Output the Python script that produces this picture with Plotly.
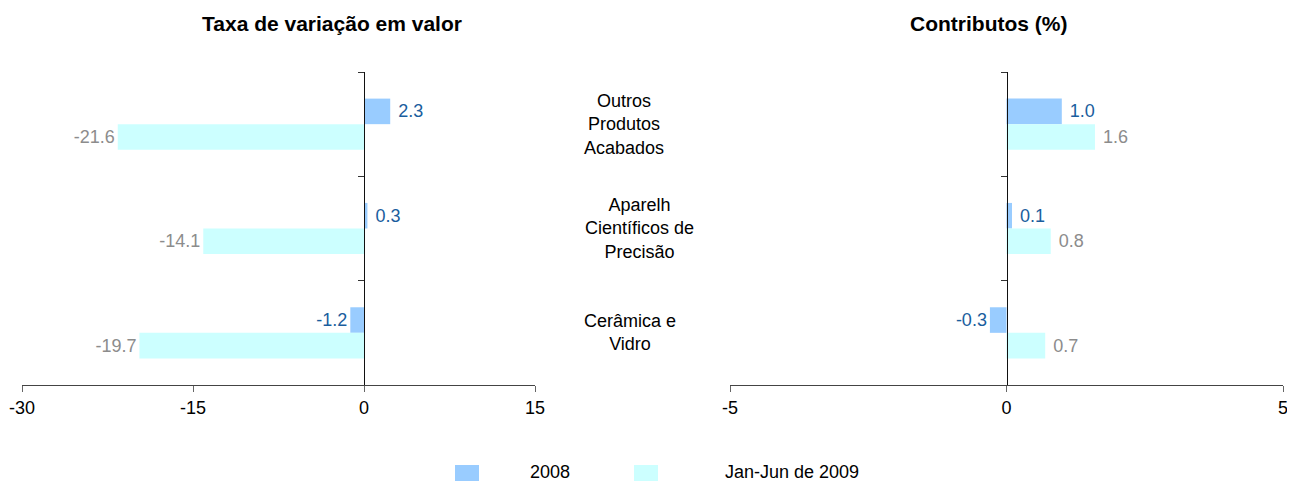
import plotly.graph_objects as go

# ---- data ----
categories = ["Outros Produtos Acabados", "Aparelh Científicos de Precisão", "Cerâmica e Vidro"]
category_labels = ["Outros<br>Produtos<br>Acabados", "Aparelh<br>Científicos de<br>Precisão", "Cerâmica e<br>Vidro"]
series_names = ["2008", "Jan-Jun de 2009"]
taxa_2008 = [2.3, 0.3, -1.2]
taxa_2009 = [-21.6, -14.1, -19.7]
contrib_2008 = [1.0, 0.1, -0.3]
contrib_2009 = [1.6, 0.8, 0.7]
left_ticks = [-30, -15, 0, 15]
right_ticks = [-5, 0, 5]
titles = ["Taxa de variação em valor", "Contributos (%)"]

# ---- style ----
OFF = 8                      # page body margin of the html page
W, H = 1295 - OFF, 481 - OFF  # figure size so the figure fills the window
FONT = "Liberation Sans, Arial, sans-serif"
C2008, C2009 = "#99CCFF", "#CCFFFF"
T2008, T2009 = "#1A5E9E", "#8C8C8C"
left_range, right_range = [-30, 15], [-5, 5]


def fx(p):  # window pixel x -> paper fraction
    return (p - OFF) / W


left_dom = [fx(22), fx(535)]
right_dom = [fx(730), fx(1283)]
label_x = [fx(624), fx(639), fx(630)]
M_T = 72 - OFF
M_B = H - (385 - OFF)
plot_h = H - M_T - M_B


def fy(p):  # window pixel y -> paper fraction
    return (H - M_B - (p - OFF)) / plot_h


def fmt(vals):
    return [("\u00a0" + f"{v:.1f}") if v >= 0 else f"{v:.1f}" for v in vals]


def zero_pos(dom, rng):
    return dom[0] + (0 - rng[0]) / (rng[1] - rng[0]) * (dom[1] - dom[0])


fig = go.Figure()
for xa, ya, v08, v09 in [("x", "y", taxa_2008, taxa_2009), ("x2", "y2", contrib_2008, contrib_2009)]:
    fig.add_trace(go.Bar(y=categories, x=v08, orientation="h", name=series_names[0],
                         marker=dict(color=C2008, line=dict(width=0)),
                         text=fmt(v08), textposition="outside", cliponaxis=False,
                         textfont=dict(color=T2008, size=18, family=FONT),
                         xaxis=xa, yaxis=ya, showlegend=False))
    fig.add_trace(go.Bar(y=categories, x=v09, orientation="h", name=series_names[1],
                         marker=dict(color=C2009, line=dict(width=0)),
                         text=fmt(v09), textposition="outside", cliponaxis=False,
                         textfont=dict(color=T2009, size=18, family=FONT),
                         xaxis=xa, yaxis=ya, showlegend=False))

xcommon = dict(showgrid=False, zeroline=False, showline=True, linecolor="#444444", linewidth=1,
               ticks="outside", ticklen=6, tickcolor="#666666", tickfont=dict(size=18, color="#000"),
               fixedrange=True, automargin=False)
ycommon = dict(type="category", categoryarray=categories, categoryorder="array",
               autorange="reversed", showgrid=False, zeroline=False, showline=True,
               linecolor="#111111", linewidth=1, ticks="outside", ticklen=6, tickcolor="#333333",
               tickson="boundaries", showticklabels=False, anchor="free", automargin=False)

fig.update_layout(
    template="none",
    width=W, height=H,
    margin=dict(l=0, r=0, t=M_T, b=M_B, pad=0),
    paper_bgcolor="white", plot_bgcolor="white",
    font=dict(family=FONT, size=18, color="#000"),
    barmode="group", bargap=0.51, bargroupgap=0,
    showlegend=False,
    xaxis=dict(domain=left_dom, range=left_range, tickvals=left_ticks,
               ticktext=[str(t) for t in left_ticks], anchor="y", **xcommon),
    xaxis2=dict(domain=right_dom, range=right_range, tickvals=right_ticks,
                ticktext=[str(t) for t in right_ticks], anchor="y2", **xcommon),
    yaxis=dict(position=zero_pos(left_dom, left_range), **ycommon),
    yaxis2=dict(position=zero_pos(right_dom, right_range), **ycommon),
)

# category labels between panels
for cat, lab, lx in zip(categories, category_labels, label_x):
    fig.add_annotation(x=lx, xref="paper", y=cat, yref="y", text=lab, showarrow=False,
                       xanchor="center", yanchor="middle", align="center",
                       font=dict(size=18, family=FONT, color="#000"))

# panel titles
for t, tx in zip(titles, [fx(332), fx(988)]):
    fig.add_annotation(x=tx, xref="paper", y=fy(23), yref="paper", text=f"<b>{t}</b>",
                       showarrow=False, xanchor="center", yanchor="middle",
                       font=dict(size=21, family=FONT, color="#000"))

# legend (manual, matching the reference layout)
for name, col, sx0, tx0 in [(series_names[0], C2008, 455, 528), (series_names[1], C2009, 634, 723)]:
    fig.add_shape(type="rect", xref="paper", yref="paper", x0=fx(sx0), x1=fx(sx0 + 24),
                  y0=fy(481), y1=fy(465), fillcolor=col, line=dict(width=0))
    fig.add_annotation(x=fx(tx0), xref="paper", y=fy(472), yref="paper", text=name, showarrow=False,
                       xanchor="left", yanchor="middle", font=dict(size=18, family=FONT, color="#000"))

fig.write_html("out.html")
